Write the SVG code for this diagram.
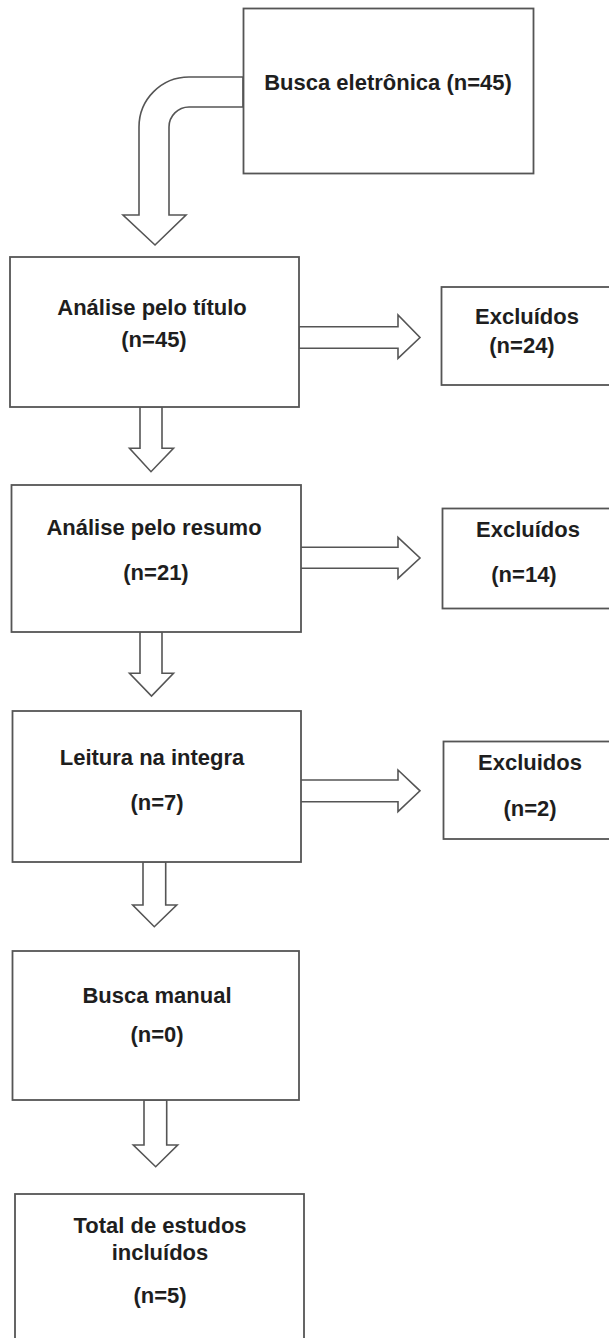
<svg xmlns="http://www.w3.org/2000/svg" width="609" height="1338" viewBox="0 0 609 1338">
<style>
.box{fill:#ffffff;stroke:#555555;stroke-width:1.8}
.arr{fill:#ffffff;stroke:#555555;stroke-width:1.6;stroke-linejoin:miter}
.t{font-family:"Liberation Sans",Arial,sans-serif;font-weight:bold;font-size:22px;fill:#1e1e1e;text-anchor:middle}
</style>
<rect width="609" height="1338" fill="#ffffff"/>
<g id="connectors">
<path class="arr" d="M243,77 H189 A50,50 0 0 0 139,127 V215 H123 L155,245 L186,215 H169 V127 A20,20 0 0 1 189,107 H243 Z"/>
<polygon class="arr" points="299,326.7 398,326.7 398,315 420,337.5 398,358.3 398,348.3 299,348.3"/>
<polygon class="arr" points="299,547.3 398,547.3 398,537.3 420,558 398,578.3 398,568.3 299,568.3"/>
<polygon class="arr" points="299,780 398,780 398,770 420,790.8 398,811.7 398,801.7 299,801.7"/>
<polygon class="arr" points="140,406.7 162,406.7 162,448.3 173.5,448.3 151,471.7 129.5,448.3 140,448.3"/>
<polygon class="arr" points="140,631.7 162,631.7 162,673.3 173.5,673.3 151.5,696 129.5,673.3 140,673.3"/>
<polygon class="arr" points="143,861.7 165.7,861.7 165.7,905 176.7,905 154.3,926.7 132.7,905 143,905"/>
<polygon class="arr" points="144,1100 166.7,1100 166.7,1145 177.7,1145 155.7,1166.7 133.3,1145 144,1145"/>
</g>
<g id="busca-eletronica">
<rect class="box" x="243.5" y="8.5" width="290" height="165"/>
<text class="t" x="388" y="90">Busca eletrônica (n=45)</text>
</g>
<g id="analise-titulo">
<rect class="box" x="10" y="257" width="289" height="150"/>
<text class="t" x="152" y="315">Análise pelo título</text>
<text class="t" x="154" y="347">(n=45)</text>
</g>
<g id="excluidos-1">
<rect class="box" x="441.5" y="287" width="172" height="98"/>
<text class="t" x="527" y="324">Excluídos</text>
<text class="t" x="522" y="353">(n=24)</text>
</g>
<g id="analise-resumo">
<rect class="box" x="11.5" y="485" width="289.5" height="147"/>
<text class="t" x="154" y="535">Análise pelo resumo</text>
<text class="t" x="156" y="580">(n=21)</text>
</g>
<g id="excluidos-2">
<rect class="box" x="442.5" y="508.5" width="172" height="100"/>
<text class="t" x="528" y="537">Excluídos</text>
<text class="t" x="524" y="582">(n=14)</text>
</g>
<g id="leitura-integra">
<rect class="box" x="12.5" y="711" width="288.5" height="151"/>
<text class="t" x="152" y="765">Leitura na integra</text>
<text class="t" x="157" y="810">(n=7)</text>
</g>
<g id="excluidos-3">
<rect class="box" x="443.5" y="741.5" width="172" height="97.5"/>
<text class="t" x="530" y="770">Excluidos</text>
<text class="t" x="530" y="816">(n=2)</text>
</g>
<g id="busca-manual">
<rect class="box" x="12.5" y="951" width="286.5" height="149"/>
<text class="t" x="157" y="1003">Busca manual</text>
<text class="t" x="157" y="1042">(n=0)</text>
</g>
<g id="total-incluidos">
<rect class="box" x="15" y="1194" width="289" height="150"/>
<text class="t" x="160" y="1233">Total de estudos</text>
<text class="t" x="160" y="1260">incluídos</text>
<text class="t" x="160" y="1303">(n=5)</text>
</g>
</svg>
